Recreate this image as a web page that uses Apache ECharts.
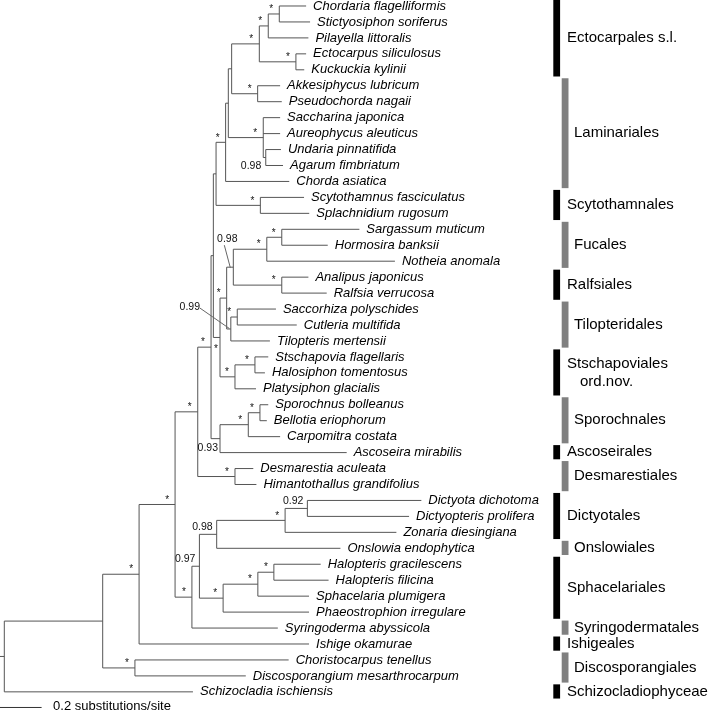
<!DOCTYPE html>
<html><head><meta charset="utf-8">
<script src="https://cdn.jsdelivr.net/npm/echarts@6/dist/echarts.min.js"></script>
<style>html,body{margin:0;padding:0;background:#fff}#c{width:709px;height:715px}</style>
</head><body><div id="c"></div>
<script>
// ---------------- DATA ----------------
const taxa = [
  'Chordaria flagelliformis','Stictyosiphon soriferus','Pilayella littoralis','Ectocarpus siliculosus','Kuckuckia kylinii',
  'Akkesiphycus lubricum','Pseudochorda nagaii','Saccharina japonica','Aureophycus aleuticus','Undaria pinnatifida',
  'Agarum fimbriatum','Chorda asiatica','Scytothamnus fasciculatus','Splachnidium rugosum','Sargassum muticum',
  'Hormosira banksii','Notheia anomala','Analipus japonicus','Ralfsia verrucosa','Saccorhiza polyschides',
  'Cutleria multifida','Tilopteris mertensii','Stschapovia flagellaris','Halosiphon tomentosus','Platysiphon glacialis',
  'Sporochnus bolleanus','Bellotia eriophorum','Carpomitra costata','Ascoseira mirabilis','Desmarestia aculeata',
  'Himantothallus grandifolius','Dictyota dichotoma','Dictyopteris prolifera','Zonaria diesingiana','Onslowia endophytica',
  'Halopteris gracilescens','Halopteris filicina','Sphacelaria plumigera','Phaeostrophion irregulare','Syringoderma abyssicola',
  'Ishige okamurae','Choristocarpus tenellus','Discosporangium mesarthrocarpum','Schizocladia ischiensis'
];
// distance of each tip from the root (substitutions/site)
const tipDepth = [
  1.451,1.470,1.462,1.451,1.442,
  1.326,1.334,1.326,1.326,1.330,
  1.340,1.370,1.441,1.466,1.707,
  1.555,1.878,1.462,1.550,1.306,
  1.406,1.277,1.269,1.253,1.210,
  1.269,1.262,1.326,1.646,1.197,
  1.212,2.005,1.946,1.885,1.616,
  1.521,1.559,1.465,1.465,1.315,
  1.465,1.367,1.161,0.907
];
// internal nodes: id, distance from root, children (numbers = tip index), support
const nodeIds = ['root','A','B','ChDi','C','G','I','X','Nsc','N0','N1','N2','Ect','E1','E2','E3','Akk','Lam','UA','Scy',
  'J','T','R1','F1','F2','Ral','Til','SC','St1','St2','H','S1','S2','Des','E','F','D0','D1','D2','Sp1','Sp2','Sp3'];
const nodeDepth = [0,0.473,0.648,0.628,0.821,0.930,0.994,1.005,1.018,1.064,1.077,1.093,1.226,1.269,1.322,1.402,1.218,1.245,1.257,1.231,
  1.037,1.069,1.101,1.262,1.334,1.334,1.089,1.120,1.109,1.205,1.037,1.173,1.229,1.109,0.902,0.938,1.021,1.350,1.457,1.052,1.219,1.296];
const nodeChildren = [
  ['A',43],['B','ChDi'],['C',40],[41,42],['G','E'],['I','Des'],['X','H'],['Nsc','J'],['N0','Scy'],['N1',11],
  ['N2','Lam'],['Ect','Akk'],['E1','E3'],['E2',2],[0,1],[3,4],[5,6],[7,8,'UA'],[9,10],[12,13],
  ['T','St1'],['R1','Til'],['F1','Ral'],['F2',16],[14,15],[17,18],['SC',21],[19,20],['St2',24],[22,23],
  ['S1',28],['S2',27],[25,26],[29,30],['F',39],['D0','Sp1'],['D1',34],['D2',33],[31,32],['Sp2',38],['Sp3',37],[35,36]
];
const nodeSupport = ['','','*','*','*','*','*','','','*','','','*','*','*','*','*','*','0.98','*',
  '*','*','0.98','*','*','*','0.99','*','*','*','0.93','*','*','*','*','0.97','0.98','*','0.92','*','*','*'];

const cladeNames = ['Ectocarpales s.l.','Laminariales','Scytothamnales','Fucales','Ralfsiales','Tilopteridales',
  'Stschapoviales\nord.nov.','Sporochnales','Ascoseirales','Desmarestiales','Dictyotales','Onslowiales','Sphacelariales',
  'Syringodermatales','Ishigeales','Discosporangiales','Schizocladiophyceae'];
const cladeFirst = [0,5,12,14,17,19,22,25,28,29,31,34,35,39,40,41,43];
const cladeLast  = [4,11,13,16,18,21,24,27,28,30,33,34,38,39,40,42,43];
const cladeShade = ['dark','light','dark','light','dark','light','dark','light','dark','light','dark','light','dark','light','dark','light','dark'];

const scaleBarLength = 0.2;
const scaleBarLabel = '0.2 substitutions/site';

// ---------------- LAYOUT / STYLE ----------------
const X_MIN = -0.0207, X_MAX = 3.0, PX_PER_UNIT = 208;
const Y_MIN = -0.376, Y_MAX = 44, PX_PER_ROW = 15.95;
const FONT = '"Liberation Sans", Arial, Helvetica, sans-serif';
const LINE = '#555';
const BAR_X = {dark: 553.3, light: 561.7}, BAR_W = 6.8;
const LABEL_X = {dark: 567, light: 574};
// special placement of some support labels (pixel offsets from node)
const special = {
  UA:  {type:'num', dx:-4.5, dy:8.5},
  H:   {type:'num', dx:-2, dy:9},
  J:   {type:'star', dx:-4, dy:12},
  R1:  {type:'leader', cx:-6, cy:-28, l1:[-9,-22], l2:[-3,0.5]},
  Til: {type:'leader', cx:-41, cy:-21.7, l1:[-31,-21], l2:[-1.5,-0.5]}
};

const nodeIndex = {}; nodeIds.forEach((id,i)=>nodeIndex[id]=i);
const nodeY = {};
function layoutY(id){
  if (nodeY[id] !== undefined) return nodeY[id];
  const ch = nodeChildren[nodeIndex[id]];
  const ys = ch.map(c => typeof c === 'number' ? c : layoutY(c));
  nodeY[id] = (ys[0] + ys[ys.length-1]) / 2;
  return nodeY[id];
}
nodeIds.forEach(layoutY);
const childX = c => typeof c === 'number' ? tipDepth[c] : nodeDepth[nodeIndex[c]];
const childY = c => typeof c === 'number' ? c : nodeY[c];

function seg(x1,y1,x2,y2,color){
  return {type:'line', shape:{x1,y1,x2,y2}, style:{stroke: color || LINE, lineWidth:1}};
}
function txt(text,x,y,opt){
  return {type:'text', style:Object.assign({text, x, y, fill:'#111', font:'10px '+FONT, align:'center', verticalAlign:'middle'}, opt||{})};
}

function renderNode(params, api){
  const i = api.value(2);
  const id = nodeIds[i];
  const p = api.coord([nodeDepth[i], nodeY[id]]);
  const ch = nodeChildren[i];
  const cs = ch.map(c => api.coord([childX(c), childY(c)]));
  const g = [];
  g.push(seg(p[0], cs[0][1], p[0], cs[cs.length-1][1]));
  cs.forEach(q => g.push(seg(p[0], q[1], q[0], q[1])));
  if (id === 'root') g.push(seg(api.coord([X_MIN,0])[0], p[1], p[0], p[1]));
  const s = nodeSupport[i];
  if (s) {
    const sp = special[id];
    if (sp && sp.type === 'leader') {
      g.push(txt(s, p[0]+sp.cx, p[1]+sp.cy, {font:'10.5px '+FONT}));
      g.push(seg(p[0]+sp.l1[0], p[1]+sp.l1[1], p[0]+sp.l2[0], p[1]+sp.l2[1], '#666'));
    } else if (sp && sp.type === 'num') {
      g.push(txt(s, p[0]+sp.dx, p[1]+sp.dy, {align:'right', font:'10.5px '+FONT}));
    } else if (sp && sp.type === 'star') {
      g.push(txt(s, p[0]+sp.dx, p[1]+sp.dy, {font:'10px '+FONT}));
    } else if (s === '*') {
      g.push(txt(s, p[0]-8, p[1]-4.5, {font:'10px '+FONT}));
    } else {
      g.push(txt(s, p[0]-4, p[1]-1.5, {align:'right', verticalAlign:'bottom', font:'10.5px '+FONT}));
    }
  }
  return {type:'group', children:g};
}

function renderTip(params, api){
  const p = api.coord([api.value(0), api.value(1)]);
  return txt(taxa[api.value(2)], p[0]+7, p[1], {align:'left', font:'italic 13px '+FONT, fill:'#000'});
}

function renderClade(params, api){
  const i = api.value(2);
  const top = api.coord([0, api.value(0) - 0.47])[1];
  const bot = api.coord([0, api.value(1) + 0.42])[1];
  const shade = cladeShade[i];
  const g = [{type:'rect', shape:{x:BAR_X[shade], y:top, width:BAR_W, height:bot-top},
              style:{fill: shade === 'dark' ? '#000' : '#808080'}}];
  const lines = cladeNames[i].split('\n');
  const mid = (top + bot) / 2;
  lines.forEach((t, k) => {
    const y = mid + (k - (lines.length-1)/2) * 18;
    g.push(txt(t, LABEL_X[shade] + (k > 0 ? 13 : 0), y, {align:'left', font:'15px '+FONT, fill:'#000'}));
  });
  return {type:'group', children:g};
}

function renderScale(params, api){
  const a = api.coord([X_MIN, api.value(1)]);
  const b = api.coord([X_MIN + scaleBarLength, api.value(1)]);
  return {type:'group', children:[
    seg(a[0], a[1], b[0], b[1], '#333'),
    txt(scaleBarLabel, b[0] + 11.5, a[1] - 1, {align:'left', font:'13px '+FONT, fill:'#000'})
  ]};
}

const chart = echarts.init(document.getElementById('c'), null, {renderer:'canvas'});
chart.setOption({
  animation: false,
  grid: {left:0, top:0, width:(X_MAX - X_MIN) * PX_PER_UNIT, height:(Y_MAX - Y_MIN) * PX_PER_ROW},
  xAxis: {type:'value', min:X_MIN, max:X_MAX, show:false},
  yAxis: {type:'value', min:Y_MIN, max:Y_MAX, inverse:true, show:false},
  series: [
    {type:'custom', clip:false, renderItem:renderNode, data: nodeIds.map((id,i)=>[nodeDepth[i], nodeY[id], i])},
    {type:'custom', clip:false, renderItem:renderTip, data: taxa.map((t,i)=>[tipDepth[i], i, i])},
    {type:'custom', clip:false, renderItem:renderClade, data: cladeNames.map((n,i)=>[cladeFirst[i], cladeLast[i], i])},
    {type:'custom', clip:false, renderItem:renderScale, data: [[0, 43.98]]}
  ]
});
</script></body></html>
